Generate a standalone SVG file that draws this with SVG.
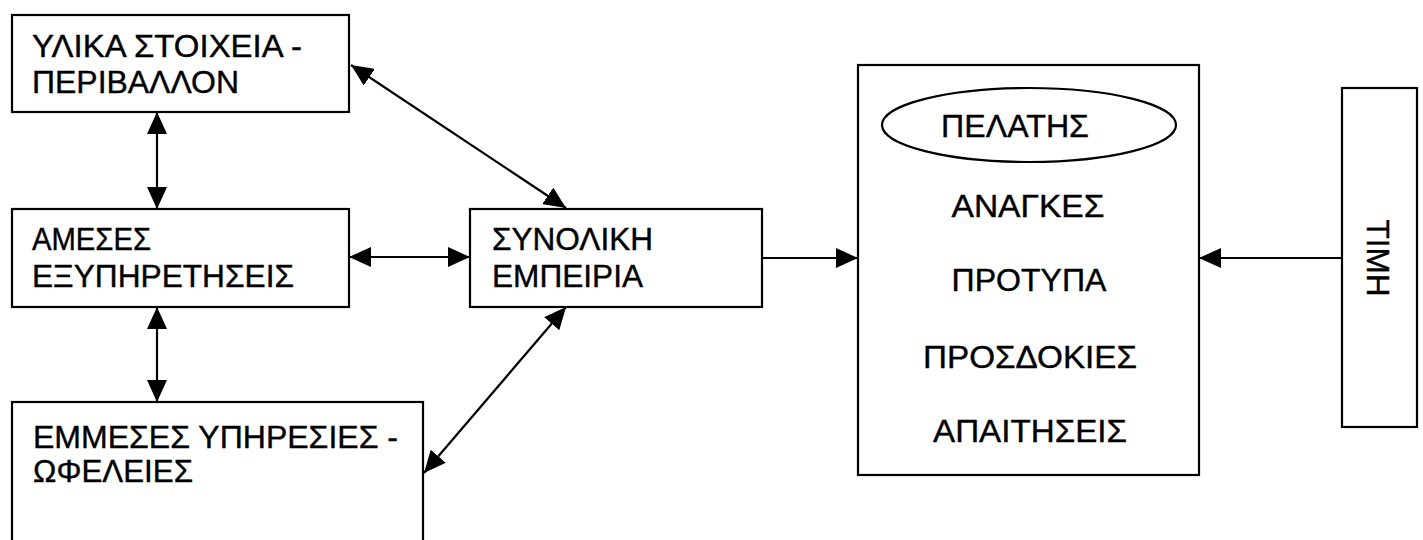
<svg xmlns="http://www.w3.org/2000/svg" width="1423" height="540" viewBox="0 0 1423 540">
<style>
.box{fill:#fff;stroke:#000;stroke-width:2.2}
.t{font-family:"Liberation Sans",Arial,sans-serif;font-size:32px;fill:#000;stroke:#000;stroke-width:0.4}
.c{text-anchor:middle}
.ln{stroke:#000;stroke-width:2.2;fill:none}
.dbl{marker-start:url(#ah);marker-end:url(#ah)}
.one{marker-end:url(#ah)}
</style>
<defs>
<marker id="ah" markerUnits="userSpaceOnUse" markerWidth="22" markerHeight="20" refX="22" refY="10" orient="auto-start-reverse" viewBox="0 0 22 20">
<path d="M0,0 L22,10 L0,20 z" fill="#000"/>
</marker>
</defs>
<rect width="1423" height="540" fill="#fff"/>
<g id="connectors">
<line class="ln dbl" x1="157" y1="112" x2="157" y2="209"/>
<line class="ln dbl" x1="157" y1="307" x2="157" y2="402"/>
<line class="ln dbl" x1="349" y1="257" x2="470" y2="257"/>
<line class="ln dbl" x1="351" y1="65" x2="566" y2="208"/>
<line class="ln dbl" x1="566" y1="307" x2="424" y2="473"/>
<line class="ln one" x1="762" y1="258" x2="858" y2="258"/>
<line class="ln one" x1="1342" y1="258" x2="1199" y2="258"/>
</g>
<g id="node-ylika">
<rect class="box" x="12" y="15" width="337" height="97"/>
<text class="t" x="32" y="57" textLength="270" lengthAdjust="spacingAndGlyphs">ΥΛΙΚΑ ΣΤΟΙΧΕΙΑ -</text>
<text class="t" x="32" y="93" textLength="207" lengthAdjust="spacingAndGlyphs">ΠΕΡΙΒΑΛΛΟΝ</text>
</g>
<g id="node-ameses">
<rect class="box" x="12" y="209" width="337" height="98"/>
<text class="t" x="32" y="250" textLength="119" lengthAdjust="spacingAndGlyphs">ΑΜΕΣΕΣ</text>
<text class="t" x="32" y="287" textLength="262" lengthAdjust="spacingAndGlyphs">ΕΞΥΠΗΡΕΤΗΣΕΙΣ</text>
</g>
<g id="node-emmeses">
<rect class="box" x="12" y="402" width="411" height="160"/>
<text class="t" x="33" y="448" textLength="365" lengthAdjust="spacingAndGlyphs">ΕΜΜΕΣΕΣ ΥΠΗΡΕΣΙΕΣ -</text>
<text class="t" x="33" y="482" textLength="160" lengthAdjust="spacingAndGlyphs">ΩΦΕΛΕΙΕΣ</text>
</g>
<g id="node-synoliki">
<rect class="box" x="470" y="209" width="292" height="98"/>
<text class="t" x="492" y="250" textLength="161" lengthAdjust="spacingAndGlyphs">ΣΥΝΟΛΙΚΗ</text>
<text class="t" x="492" y="287" textLength="151" lengthAdjust="spacingAndGlyphs">ΕΜΠΕΙΡΙΑ</text>
</g>
<g id="node-pelatis">
<rect class="box" x="858" y="65" width="341" height="410"/>
<ellipse class="box" cx="1029" cy="125" rx="147" ry="37"/>
<text class="t c" x="1015" y="137" textLength="148" lengthAdjust="spacingAndGlyphs">ΠΕΛΑΤΗΣ</text>
<text class="t c" x="1028" y="217" textLength="153" lengthAdjust="spacingAndGlyphs">ΑΝΑΓΚΕΣ</text>
<text class="t c" x="1029" y="291" textLength="155" lengthAdjust="spacingAndGlyphs">ΠΡΟΤΥΠΑ</text>
<text class="t c" x="1030" y="368" textLength="214" lengthAdjust="spacingAndGlyphs">ΠΡΟΣΔΟΚΙΕΣ</text>
<text class="t c" x="1030" y="442" textLength="194" lengthAdjust="spacingAndGlyphs">ΑΠΑΙΤΗΣΕΙΣ</text>
</g>
<g id="node-timi">
<rect class="box" x="1342" y="88" width="75" height="339"/>
<text class="t c" transform="rotate(90 1378 258)" x="1378" y="269" textLength="77" lengthAdjust="spacingAndGlyphs">ΤΙΜΗ</text>
</g>
</svg>
